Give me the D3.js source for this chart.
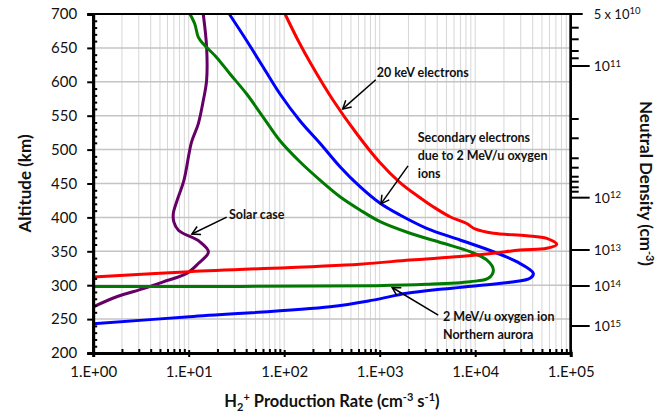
<!DOCTYPE html>
<html>
<head>
<meta charset="utf-8">
<script src="https://cdn.jsdelivr.net/npm/d3@7"></script>
<style>
body { margin: 0; background: #fff; }
text { font-family: Lato, "Open Sans", sans-serif; fill: #111; }
</style>
</head>
<body>
<svg id="viz" width="671" height="415"></svg>
<script>
// curves: [altitude km, H2+ production rate cm-3 s-1]
var electrons20keV = [[700, 1.02e2], [661.7, 1.39e2], [626.3, 1.91e2], [573.2, 3.24e2], [523, 5.78e2],
    [481.7, 9.93e2], [452.2, 1.61e3], [430.1, 2.58e3], [415.4, 3.66e3], [400.6, 5.51e3], [391, 8.15e3],
    [383, 9.96e3], [376.6, 1.55e4], [373, 3.46e4], [369, 5.61e4], [360.3, 7.13e4], [354.4, 5.61e4], [352, 2.94e4],
    [347, 1.55e4], [342.2, 6.93e3], [337.2, 2.08e3], [331, 6.2e2], [320, 1.02e1], [312, 1.0]];
var oxygenAurora = [[700, 2.66e1], [660.6, 4.05e1], [621.4, 6.04e1], [582, 9.04e1], [542.6, 1.46e2],
    [509.3, 2.37e2], [474.8, 3.84e2], [445.3, 6.22e2], [420.8, 1.01e3], [403.5, 1.63e3], [383.9, 3.10e3],
    [366.7, 6.93e3], [349.4, 1.55e4], [334.7, 2.72e4], [317.5, 4.06e4], [310.2, 3.75e4], [304.3, 2.31e4],
    [299.3, 1.04e4], [294.4, 4.63e3], [288, 1.92e3], [278, 8.51e2], [268.3, 3.02e2], [253.5, 1.02e1], [243, 1.0]];
var secondaryElectrons = [[700, 1.03e1], [685, 1.16e1], [666, 1.26e1], [656, 1.42e1], [636, 1.96e1],
    [611.5, 2.71e1], [582, 4.05e1], [547.6, 6.04e1], [513, 9.04e1], [482, 1.46e2], [455, 2.37e2], [430.5, 3.84e2],
    [411, 6.22e2], [393.7, 1.01e3], [376.6, 2.08e3], [361.8, 4.63e3], [349.4, 8.83e3], [337.2, 1.32e4],
    [322.4, 1.55e4], [310.2, 1.37e4], [305.2, 8.83e3], [301.3, 3.10e3], [299.3, 9.31e2], [298, 1.0]];
var solarCase = [[700, 1.42e1], [651, 1.54e1], [602, 1.54e1], [572, 1.42e1], [538, 1.26e1], [511, 1.07e1],
    [455, 8.93], [426, 7.60], [406, 6.90], [393, 7.0], [381, 7.8], [364, 1.31e1], [349, 1.61e1], [332, 1.26e1],
    [317.5, 9.53], [305, 5.42], [295, 3.35], [283, 1.76], [268, 1.0]];

var altTicks = [200, 250, 300, 350, 400, 450, 500, 550, 600, 650, 700];
var rateTicks = [1e0, 1e1, 1e2, 1e3, 1e4, 1e5];
var rateTickLabels = ["1.E+00", "1.E+01", "1.E+02", "1.E+03", "1.E+04", "1.E+05"];

// neutral density axis (right), altitude of each tick
var densityMajorAlt = [700, 623.3, 429.1, 351.9, 298.8, 239.8];
var densityMajorBase = ["5 x 10", "10", "10", "10", "10", "10"];
var densityMajorExp = ["10", "11", "12", "13", "14", "15"];
var densityMinorAlt = [679.8, 662.7, 645.4, 634.7, 545.1, 516.7, 487.2, 473.3, 460, 452.7, 444.4, 437.9];

var series = [
    {data: solarCase, color: "#660066"},
    {data: secondaryElectrons, color: "#007a00"},
    {data: oxygenAurora, color: "#0000ff"},
    {data: electrons20keV, color: "#ff0000"}
];

// annotations: text lines at [rate, alt], arrow from/to [rate, alt]
var notes = [
    {lines: ["20 keV electrons"], at: [9.3e2, 614], from: [9.1e2, 603], to: [4.1e2, 560]},
    {lines: ["Secondary electrons", "due to 2 MeV/u oxygen", "ions"], at: [2.5e3, 517.5], from: [1.98e3, 476], to: [1.03e3, 420]},
    {lines: ["Solar case"], at: [2.64e1, 403.5], from: [2.5e1, 400.5], to: [1.08e1, 375.5]},
    {lines: ["2 MeV/u oxygen ion", "Northern aurora"], at: [4.6e3, 253], from: [4.1e3, 256], to: [1.35e3, 296.6]}
];

var svg = d3.select("#viz");
var plotLeft = 93.2, plotRight = 570.7, plotTop = 14, plotBottom = 353;

var x = d3.scaleLog().domain([1, 1e5]).range([plotLeft, plotRight]);
var y = d3.scaleLinear().domain([200, 700]).range([plotBottom, plotTop]);

var g = svg.append("g");

// gridlines
var minorRates = [];
for (var d = 0; d < 5; d++) {
    for (var k = 1; k <= 9; k++) minorRates.push(k * Math.pow(10, d));
}
minorRates.push(1e5);
g.selectAll(".vgrid").data(minorRates).enter().append("line")
    .attr("x1", d => x(d)).attr("x2", d => x(d))
    .attr("y1", plotTop).attr("y2", plotBottom)
    .attr("stroke", "#d6d6d6").attr("stroke-width", 1);
g.selectAll(".hgrid").data(altTicks.slice(1, -1)).enter().append("line")
    .attr("x1", plotLeft).attr("x2", plotRight)
    .attr("y1", d => y(d)).attr("y2", d => y(d))
    .attr("stroke", "#c4c4c4").attr("stroke-width", 1.5);

// curves
var line = d3.line()
    .x(d => x(d[1]))
    .y(d => y(d[0]))
    .curve(d3.curveCatmullRom.alpha(0.5));

g.selectAll(".curve").data(series).enter().append("path")
    .attr("d", d => line(d.data))
    .attr("fill", "none")
    .attr("stroke", d => d.color)
    .attr("stroke-width", 3)
    .attr("stroke-linejoin", "round");

// frame
g.append("rect").attr("x", plotLeft).attr("y", plotTop)
    .attr("width", plotRight - plotLeft).attr("height", plotBottom - plotTop)
    .attr("fill", "none").attr("stroke", "#000").attr("stroke-width", 2);

// left axis
var leftAxis = g.append("g").attr("transform", "translate(" + plotLeft + ",0)")
    .call(d3.axisLeft(y).tickValues(altTicks).tickSize(6).tickPadding(10));
leftAxis.select(".domain").attr("stroke-width", 3);
leftAxis.selectAll(".tick line").attr("stroke-width", 2);
leftAxis.selectAll("text").style("font-size", "15px").attr("fill", "#111");
g.append("g").attr("transform", "translate(" + plotLeft + ",0)")
    .call(d3.axisRight(y).tickValues(d3.range(210, 700, 10).filter(v => v % 50 != 0)).tickSize(4).tickFormat(""))
    .call(a => a.select(".domain").remove())
    .selectAll("line").attr("stroke-width", 2);

// bottom axis
var bottomAxis = g.append("g").attr("transform", "translate(0," + plotBottom + ")")
    .call(d3.axisBottom(x).tickValues(rateTicks).tickSize(4).tickPadding(9)
        .tickFormat((d, i) => rateTickLabels[i]));
bottomAxis.select(".domain").attr("stroke-width", 3);
bottomAxis.selectAll(".tick line").attr("y1", -3).attr("stroke-width", 2);
bottomAxis.selectAll("text").style("font-size", "15px").attr("fill", "#111");
g.append("g").attr("transform", "translate(0," + plotBottom + ")")
    .call(d3.axisTop(x).tickValues(minorRates.filter(v => rateTicks.indexOf(v) < 0)).tickSize(4).tickFormat(""))
    .call(a => a.select(".domain").remove())
    .selectAll("line").attr("stroke-width", 2);

// right axis: neutral density
var rightAxis = g.append("g").attr("transform", "translate(" + plotRight + ",0)");
rightAxis.append("line").attr("x1", 0).attr("x2", 0).attr("y1", plotTop - 1).attr("y2", plotBottom + 1)
    .attr("stroke", "#000").attr("stroke-width", 2.5);
rightAxis.selectAll(".minor").data(densityMinorAlt).enter().append("line")
    .attr("x1", 0).attr("x2", 8).attr("y1", d => y(d)).attr("y2", d => y(d))
    .attr("stroke", "#000").attr("stroke-width", 2);
var major = rightAxis.selectAll(".major").data(densityMajorAlt).enter().append("g")
    .attr("transform", d => "translate(0," + y(d) + ")");
major.append("line").attr("x1", 0).attr("x2", (d, i) => i == 0 ? 12 : 19)
    .attr("stroke", "#000").attr("stroke-width", 2);
var lbl = major.append("text").attr("x", 23).attr("dy", "0.35em")
    .style("font-size", (d, i) => i == 0 ? "13px" : "14px");
lbl.append("tspan").text((d, i) => densityMajorBase[i]);
lbl.append("tspan").attr("dy", "-0.45em").style("font-size", "9.5px").text((d, i) => densityMajorExp[i]);

// axis titles
svg.append("text").attr("transform", "translate(31," + ((plotTop + plotBottom) / 2) + ") rotate(-90)")
    .attr("text-anchor", "middle").style("font-size", "17px").style("font-weight", "bold")
    .text("Altitude (km)");

var xt = svg.append("text").attr("x", (plotLeft + plotRight) / 2).attr("y", 407)
    .attr("text-anchor", "middle").style("font-size", "16.5px").style("font-weight", "bold");
xt.append("tspan").text("H");
xt.append("tspan").attr("dy", 4).style("font-size", "11px").text("2");
xt.append("tspan").attr("dy", -10).style("font-size", "11px").text("+");
xt.append("tspan").attr("dy", 6).text(" Production Rate (cm");
xt.append("tspan").attr("dy", -6).style("font-size", "11px").text("-3");
xt.append("tspan").attr("dy", 6).text(" s");
xt.append("tspan").attr("dy", -6).style("font-size", "11px").text("-1");
xt.append("tspan").attr("dy", 6).text(")");

var yt = svg.append("text").attr("transform", "translate(640," + ((plotTop + plotBottom) / 2) + ") rotate(90)")
    .attr("text-anchor", "middle").style("font-size", "17px").style("font-weight", "bold");
yt.append("tspan").text("Neutral Density (cm");
yt.append("tspan").attr("dy", -6).style("font-size", "11px").text("-3");
yt.append("tspan").attr("dy", 6).text(")");

// annotations
svg.append("defs").append("marker").attr("id", "head")
    .attr("viewBox", "-10 -6 12 12").attr("refX", 0).attr("refY", 0)
    .attr("markerWidth", 12).attr("markerHeight", 12).attr("markerUnits", "userSpaceOnUse")
    .attr("orient", "auto")
    .append("path").attr("d", "M-8,-4.5L0,0L-8,4.5").attr("fill", "none")
    .attr("stroke", "#000").attr("stroke-width", 1.5);

var note = svg.selectAll(".note").data(notes).enter().append("g");
note.append("line")
    .attr("x1", d => x(d.from[0])).attr("y1", d => y(d.from[1]))
    .attr("x2", d => x(d.to[0])).attr("y2", d => y(d.to[1]))
    .attr("stroke", "#000").attr("stroke-width", 1.5)
    .attr("marker-end", "url(#head)");
note.each(function(d) {
    var t = d3.select(this).append("text")
        .attr("x", x(d.at[0])).attr("y", y(d.at[1]))
        .style("font-size", "12.5px").style("font-weight", "bold");
    d.lines.forEach(function(s, i) {
        t.append("tspan").attr("x", x(d.at[0])).attr("dy", i == 0 ? "0.35em" : 18).text(s);
    });
});
</script>
</body>
</html>
